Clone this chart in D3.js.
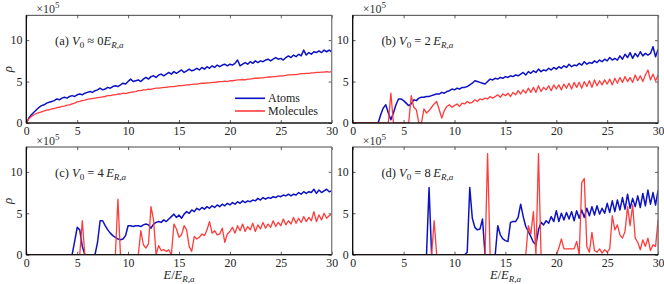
<!DOCTYPE html>
<html>
<head>
<meta charset="utf-8">
<script src="https://cdn.jsdelivr.net/npm/d3@7"></script>
<style>
  html, body { margin: 0; padding: 0; background: #fff; }
  svg { display: block; font-family: 'Liberation Serif', 'DejaVu Serif', serif; }
  svg text { font-family: 'Liberation Serif', 'DejaVu Serif', serif; }
</style>
</head>
<body>
<div id="chart"></div>
<script>
const COLOR_ATOMS = '#0c12c4';
const COLOR_MOLECULES = '#ff3b3b';
const FONT = "'Liberation Serif', 'DejaVu Serif', serif";

// energy grid E / E_{R,a}, one value every 0.25
const E_STEP = 0.25;
const energy = d3.range(0, 30 + E_STEP / 2, E_STEP);

const xTicks = [0, 5, 10, 15, 20, 25, 30];
const yTicks = [0, 5, 10];

// density of states rho, in units of 1e5 (8 values per row = 2 units of E)
const atomsA = [
  0, 0.6, 1.0, 1.3, 1.6, 1.9, 2.1, 2.2,
  2.4, 2.5, 2.6, 2.7, 2.9, 2.8, 3.0, 3.1,
  3.0, 3.2, 3.3, 3.2, 3.4, 3.5, 3.4, 3.6,
  3.7, 3.8, 3.7, 3.9, 4.0, 4.2, 4.0, 4.1,
  4.3, 4.2, 4.4, 4.5, 4.4, 4.6, 4.8, 4.7,
  5.0, 5.3, 5.0, 5.1, 5.2, 5.0, 5.3, 5.5,
  5.3, 5.6, 5.7, 5.5, 5.8, 5.9, 5.7, 5.9,
  6.1, 5.9, 6.2, 6.0, 6.2, 6.4, 6.1, 6.3,
  6.5, 6.3, 6.4, 6.6, 6.4, 6.7, 6.5, 6.8,
  6.6, 6.9, 6.7, 7.0, 6.8, 7.0, 7.1, 6.9,
  7.1, 7.0, 7.2, 7.6, 6.9, 7.1, 7.3, 7.1,
  7.4, 7.2, 7.5, 7.3, 7.5, 7.4, 7.6, 7.7,
  7.5, 7.7, 7.9, 7.7, 7.8, 7.6, 7.9, 8.1,
  7.9, 8.2, 8.0, 8.3, 8.1, 8.8, 8.2, 8.5,
  8.3, 8.6, 8.5, 8.7, 8.5, 8.8, 8.6, 8.8,
  8.6
];
const moleculesA = [
  0, 0.5, 0.8, 1.0, 1.15, 1.25, 1.35, 1.45,
  1.55, 1.6, 1.7, 1.75, 1.85, 1.9, 2.0, 2.05,
  2.15, 2.2, 2.3, 2.4, 2.55, 2.6, 2.7, 2.75,
  2.85, 2.9, 2.95, 3.0, 3.05, 3.1, 3.15, 3.2,
  3.3, 3.3, 3.4, 3.4, 3.5, 3.5, 3.6, 3.55,
  3.65, 3.7, 3.75, 3.8, 3.9, 3.9, 4.0, 4.0,
  4.1, 4.05, 4.15, 4.2, 4.2, 4.25, 4.3, 4.3,
  4.35, 4.4, 4.4, 4.45, 4.5, 4.5, 4.55, 4.6,
  4.6, 4.65, 4.7, 4.7, 4.75, 4.8, 4.8, 4.85,
  4.85, 4.9, 4.9, 4.95, 5.0, 5.0, 5.05, 5.0,
  5.1, 5.1, 5.15, 5.2, 5.2, 5.25, 5.2, 5.3,
  5.3, 5.35, 5.4, 5.4, 5.45, 5.45, 5.5, 5.55,
  5.55, 5.6, 5.6, 5.65, 5.7, 5.7, 5.75, 5.8,
  5.8, 5.85, 5.85, 5.9, 5.95, 5.95, 6.0, 6.0,
  6.05, 6.05, 6.1, 6.1, 6.15, 6.15, 6.2, 6.15,
  6.2
];

const atomsB = [
  0, 0, 0, 0, 0, 0, 0, 0,
  0, 0, 0, 1.0, 1.8, 2.2, 1.2, 0.4,
  1.2, 2.2, 2.9, 2.9, 2.7, 2.4, 2.1, 2.3,
  2.8, 2.7, 3.0, 3.1, 3.1, 3.2, 3.2, 3.3,
  3.4, 3.5, 3.5, 3.7, 3.6, 3.8, 3.9, 4.1,
  4.0, 4.2, 4.1, 4.3, 4.3, 4.4, 4.6, 4.8,
  5.1, 5.0, 4.9, 4.8, 4.7, 5.0, 5.3, 5.2,
  5.4, 5.3, 5.5, 5.4, 5.6, 5.5, 5.7, 5.6,
  5.8, 5.7, 5.9, 6.1, 5.8, 6.2, 6.0, 6.3,
  6.1, 6.5, 6.2, 6.4, 6.3, 6.6, 6.4, 6.7,
  6.5, 6.8, 6.6, 6.9, 6.7, 7.1, 6.8, 7.0,
  6.9, 7.2, 7.0, 7.4, 7.1, 7.3, 7.2, 7.5,
  7.3, 7.6, 7.4, 7.7, 7.5, 7.9, 7.6, 7.8,
  7.6, 8.1, 7.7, 8.3, 7.9, 8.5, 7.8, 8.4,
  8.0, 8.6, 8.1, 8.4, 8.2, 8.4, 9.2, 8.0,
  8.9
];
const moleculesB = [
  0, 0, 0, 0, 0, 0, 0, 0,
  0, 0, 0, 0, 0, 0, 0, 3.6,
  0, 0, 0, 0, 0, 0, 0, 3.3,
  1.9, 1.6, 0, 0, 1.7, 1.2, 1.5, 1.9,
  2.3, 2.6, 1.6, 0.6, 1.5, 2.0, 2.2, 1.9,
  2.1, 2.3, 2.0, 2.4, 2.3, 2.6, 2.4, 2.5,
  2.8, 2.6, 2.9, 2.8, 3.0, 2.9, 3.2, 3.0,
  3.2, 3.4, 3.1, 3.5, 3.3, 3.6, 3.2, 3.7,
  3.4, 3.9, 3.5, 4.0, 3.6, 4.2, 3.7, 4.3,
  3.7, 4.5, 3.8, 4.3, 4.0, 4.5, 3.9, 4.6,
  4.1, 4.6, 4.0, 4.7, 4.2, 4.8, 4.1, 4.9,
  4.3, 4.9, 4.2, 5.0, 4.4, 5.1, 4.3, 5.2,
  4.5, 5.1, 4.6, 5.2, 4.7, 5.3, 4.6, 5.4,
  4.8, 5.5, 4.9, 5.6, 5.0, 5.5, 4.9, 5.8,
  5.1, 5.7, 5.0, 5.8, 6.4, 5.2, 5.9, 5.1,
  5.8
];

const atomsC = [
  0, 0, 0, 0, 0, 0, 0, 0,
  0, 0, 0, 0, 0, 0, 0, 0,
  0, 0, 0, 1.6, 3.3, 3.0, 1.0, 0,
  0, 0, 0, 0, 1.5, 4.1, 4.1, 3.5,
  3.0, 2.6, 2.3, 2.1, 1.9, 1.8, 1.9, 2.3,
  3.5, 3.5, 3.4, 3.5, 3.5, 3.4, 3.6, 3.7,
  3.6, 3.2, 3.7, 3.9, 4.0, 3.9, 4.2, 4.0,
  4.3, 4.6, 4.9, 4.5, 4.8, 4.4, 4.9, 5.2,
  5.0, 5.4, 5.2, 5.6, 5.4, 5.7, 5.5, 5.8,
  5.6, 5.9, 5.7, 6.0, 5.8, 6.1, 5.9, 6.2,
  6.0, 6.3, 6.1, 6.4, 6.2, 6.5, 6.3, 6.5,
  6.4, 6.6, 6.5, 6.8, 6.6, 6.9, 6.7, 6.9,
  6.8, 7.0, 6.9, 7.1, 7.0, 7.2, 7.1, 7.3,
  7.1, 7.3, 7.2, 7.5, 7.3, 7.6, 7.4, 7.6,
  7.5, 7.9, 7.4, 7.8, 7.5, 7.7, 7.9, 7.6,
  7.7
];
const moleculesC = [
  0, 0, 0, 0, 0, 0, 0, 0,
  0, 0, 0, 0, 0, 0, 0, 0,
  0, 0, 0, 0, 0, 0, 4.1, 0,
  0, 0, 0, 0, 0, 0, 0, 0,
  0, 0, 0, 0, 6.7, 0, 0, 0,
  0, 0, 0, 0, 0, 2.9, 1.2, 0.8,
  1.3, 5.8, 4.2, 0, 1.1, 0.5, 0.6, 0.4,
  0.6, 0, 3.7, 3.1, 2.1, 2.4, 3.5, 3.0,
  1.0, 0.4, 2.2, 1.9, 2.1, 2.5, 2.3, 3.0,
  4.0, 2.6, 2.9, 2.4, 2.5, 3.2, 1.5, 2.5,
  2.8, 3.3, 2.6, 3.5, 2.9, 3.7, 2.8, 3.4,
  3.0, 3.8, 2.8, 3.6, 3.1, 3.9, 3.2, 3.7,
  3.3, 4.1, 3.4, 3.9, 3.5, 4.3, 3.6, 4.1,
  3.7, 4.5, 3.8, 4.4, 3.9, 4.6, 4.0, 4.5,
  4.1, 5.2, 4.0, 4.8, 4.2, 5.0, 4.4, 4.7,
  4.9
];

const atomsD = [
  0, 0, 0, 0, 0, 0, 0, 0,
  0, 0, 0, 0, 0, 0, 0, 0,
  0, 0, 0, 0, 0, 0, 0, 0,
  0, 0, 0, 0, 0, 0, 8.1, 0,
  0, 0, 0, 0, 0, 0, 0, 0,
  0, 0, 0, 0, 0, 0.3, 8.1, 4.4,
  3.3, 3.0, 3.1, 4.3, 0, 0, 0, 0,
  0, 3.5, 2.4, 1.9, 1.7, 1.6, 3.9, 4.0,
  4.0, 4.5, 6.1, 4.6, 3.4, 2.8, 2.2, 1.5,
  1.2, 3.0, 3.9, 3.6, 4.1, 3.8, 4.6, 4.0,
  5.3, 4.0, 5.0, 4.2, 5.1, 4.3, 5.2, 4.1,
  5.3, 4.4, 5.4, 4.5, 5.6, 4.7, 5.8, 4.8,
  5.9, 4.9, 5.6, 5.0, 6.2, 5.1, 6.5, 5.2,
  6.6, 5.4, 6.9, 5.5, 7.3, 5.6, 6.8, 5.8,
  7.1, 5.7, 7.4, 5.9, 7.8, 6.1, 7.5, 6.0,
  7.8
];
const moleculesD = [
  0, 0, 0, 0, 0, 0, 0, 0,
  0, 0, 0, 0, 0, 0, 0, 0,
  0, 0, 0, 0, 0, 0, 0, 0,
  0, 0, 0, 0, 0, 0, 0, 0,
  4.1, 0, 0, 0, 0, 0, 0, 0,
  0, 0, 0, 0, 0, 0, 0, 0,
  0, 0, 0, 0, 0, 12.2, 0, 0,
  0, 0, 0, 0, 0, 0, 0, 0,
  0, 0, 0, 0, 0, 3.5, 2.5, 5.2,
  0, 12.2, 0, 0, 0, 0, 0, 0,
  0, 0.8, 1.9, 0.7, 0.7, 0.7, 0.7, 0.7,
  1.6, 0, 8.7, 9.2, 1.0, 0.3, 2.7, 0.5,
  0.3, 0.7, 0.2, 0.6, 0.3, 0.7, 4.7, 3.0,
  3.6, 2.4, 2.0, 2.8, 5.8, 3.5, 6.0, 2.0,
  1.5, 0.6, 1.8, 1.0, 2.0, 0.5, 1.2, 1.0,
  4.2
];

const panelTags = ['(a)', '(b)', '(c)', '(d)'];
const panelRelations = ['\u2248 0', '= 2', '= 4', '= 8'];
const legendLabels = ['Atoms', 'Molecules'];

const W = 664, H = 284;
const pw = 305.4, ph = 107.7;
const panels = [
  { left: 26.3, top: 15.3, atoms: atomsA, molecules: moleculesA, yLabel: true, xLabel: false, legend: true },
  { left: 352.7, top: 15.3, atoms: atomsB, molecules: moleculesB, yLabel: false, xLabel: false, legend: false },
  { left: 26.3, top: 147, atoms: atomsC, molecules: moleculesC, yLabel: true, xLabel: true, legend: false },
  { left: 352.7, top: 147, atoms: atomsD, molecules: moleculesD, yLabel: false, xLabel: true, legend: false }
];

const svg = d3.select('#chart').append('svg')
  .attr('width', W)
  .attr('height', H);

const x = d3.scaleLinear().domain([0, 30]).range([0, pw]);
const y = d3.scaleLinear().domain([0, 13]).range([ph, 0]);

const line = d3.line()
  .x((d, i) => x(energy[i]))
  .y((d) => y(d));

panels.forEach((p, k) => {
  const g = svg.append('g').attr('transform', 'translate(' + p.left + ',' + p.top + ')');

  g.append('clipPath').attr('id', 'clip' + k)
    .append('rect').attr('width', pw).attr('height', ph);

  const lines = g.append('g').attr('clip-path', 'url(#clip' + k + ')');
  lines.append('path')
    .datum(p.atoms)
    .attr('d', line)
    .attr('fill', 'none')
    .attr('stroke', COLOR_ATOMS)
    .attr('stroke-width', 1.5)
    .attr('stroke-linejoin', 'round');
  lines.append('path')
    .datum(p.molecules)
    .attr('d', line)
    .attr('fill', 'none')
    .attr('stroke', COLOR_MOLECULES)
    .attr('stroke-width', 1.3)
    .attr('stroke-linejoin', 'round');

  // inward ticks on all four sides
  const bottom = g.append('g')
    .attr('transform', 'translate(0,' + ph + ')')
    .call(d3.axisBottom(x).tickValues(xTicks).tickSize(-3).tickPadding(3.5).tickFormat(d3.format('d')));
  const top = g.append('g')
    .call(d3.axisTop(x).tickValues(xTicks).tickSize(-3).tickFormat(''));
  const left = g.append('g')
    .call(d3.axisLeft(y).tickValues(yTicks).tickSize(-3).tickPadding(4).tickFormat(d3.format('d')));
  const right = g.append('g')
    .attr('transform', 'translate(' + pw + ',0)')
    .call(d3.axisRight(y).tickValues(yTicks).tickSize(-3).tickFormat(''));

  [bottom, top, left, right].forEach((a) => {
    a.attr('font-family', FONT);
    a.select('.domain').remove();
    a.selectAll('line').attr('stroke', '#333').attr('stroke-width', 0.8);
    a.selectAll('text')
      .attr('fill', '#222')
      .style('font-size', '11.8px');
  });

  g.append('rect')
    .attr('width', pw)
    .attr('height', ph)
    .attr('fill', 'none')
    .attr('stroke', '#333')
    .attr('stroke-width', 0.9);
  g.append('line')
    .attr('x1', pw).attr('x2', pw)
    .attr('y1', 0).attr('y2', ph)
    .attr('stroke', '#888')
    .attr('stroke-width', 1);
  g.append('line')
    .attr('x1', 0).attr('x2', pw)
    .attr('y1', ph).attr('y2', ph)
    .attr('stroke', '#000')
    .attr('stroke-width', 1.1);
  g.append('line')
    .attr('x1', 0).attr('x2', 0)
    .attr('y1', 0).attr('y2', ph)
    .attr('stroke', '#000')
    .attr('stroke-width', 1.1);

  // x10^5 multiplier
  const mult = g.append('text')
    .attr('x', 10)
    .attr('y', -2.5)
    .attr('fill', '#333')
    .style('font-size', '12px');
  mult.append('tspan').text('\u00d710');
  mult.append('tspan').attr('dy', -4.5).style('font-size', '9px').text('5');

  // panel label
  const lab = g.append('text')
    .attr('x', 28.7)
    .attr('y', 30)
    .attr('fill', '#222')
    .style('font-size', '12.5px');
  lab.append('tspan').text(panelTags[k] + ' ');
  lab.append('tspan').style('font-style', 'italic').text('V');
  lab.append('tspan').attr('dy', 2.5).style('font-size', '9px').text('0');
  lab.append('tspan').attr('dy', -2.5).text(' ' + panelRelations[k] + (k === 0 ? '' : '\u2009'));
  lab.append('tspan').style('font-style', 'italic').text('E');
  lab.append('tspan').attr('dy', 2.5).style('font-size', '9px').style('font-style', 'italic').text('R,a');

  if (p.yLabel) {
    g.append('text')
      .attr('transform', 'translate(' + (-18.6) + ',' + (ph / 2) + ') rotate(-90)')
      .attr('text-anchor', 'middle')
      .attr('dominant-baseline', 'central')
      .attr('fill', '#222')
      .style('font-style', 'italic')
      .style('font-size', '13px')
      .text('\u03c1');
  }

  if (p.xLabel) {
    const xl = g.append('text')
      .attr('x', pw / 2)
      .attr('y', ph + 24.5)
      .attr('text-anchor', 'middle')
      .attr('fill', '#222')
      .style('font-size', '12.5px');
    xl.append('tspan').style('font-style', 'italic').text('E');
    xl.append('tspan').text('/');
    xl.append('tspan').style('font-style', 'italic').text('E');
    xl.append('tspan').attr('dy', 2.5).style('font-size', '9px').style('font-style', 'italic').text('R,a');
  }

  if (p.legend) {
    const lg = g.append('g').attr('transform', 'translate(' + (235 - p.left) + ',' + (98.3 - p.top) + ')');
    [COLOR_ATOMS, COLOR_MOLECULES].forEach((c, i) => {
      lg.append('line')
        .attr('x1', 0).attr('x2', 30)
        .attr('y1', i * 12.7).attr('y2', i * 12.7)
        .attr('stroke', c)
        .attr('stroke-width', 1.6);
      lg.append('text')
        .attr('x', 33)
        .attr('y', i * 12.7 + 4)
        .attr('fill', '#222')
        .style('font-size', '12px')
        .text(legendLabels[i]);
    });
  }
});
</script>
</body>
</html>
